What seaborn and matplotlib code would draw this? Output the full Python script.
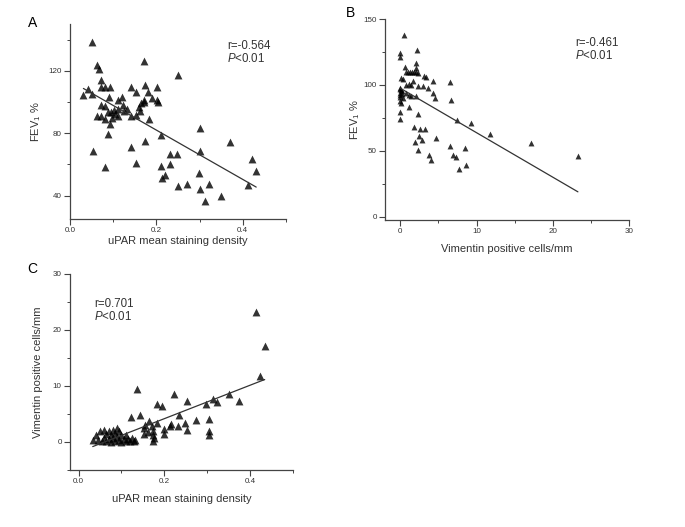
import numpy as np
import pandas as pd
import matplotlib
matplotlib.use("Agg")
import matplotlib.pyplot as plt
from matplotlib.ticker import AutoMinorLocator, MultipleLocator
import seaborn as sns

# ---- Panel A: uPAR vs FEV1 % ----
a_upar = [0.031, 0.042, 0.052, 0.052, 0.054, 0.062, 0.067, 0.063, 0.072, 0.072,
          0.072, 0.071, 0.082, 0.092, 0.082, 0.082, 0.082, 0.088, 0.089, 0.091,
          0.092, 0.095, 0.097, 0.102, 0.105, 0.110, 0.111, 0.112, 0.121, 0.122,
          0.124, 0.132, 0.141, 0.142, 0.142, 0.153, 0.152, 0.152, 0.160, 0.163,
          0.164, 0.172, 0.173, 0.172, 0.172, 0.173, 0.181, 0.182, 0.190, 0.202,
          0.202, 0.203, 0.211, 0.211, 0.212, 0.221, 0.231, 0.231, 0.247, 0.251,
          0.251, 0.271, 0.298, 0.302, 0.302, 0.302, 0.312, 0.322, 0.349, 0.371,
          0.411, 0.421, 0.431]
a_fev = [104.2, 108.2, 138.4, 105.2, 68.4, 124.0, 121.3, 91.3, 91.3, 113.8,
         109.3, 98.0, 109.3, 109.3, 97.3, 88.8, 58.2, 93.6, 79.8, 103.1,
         85.8, 93.6, 90.0, 94.7, 92.6, 95.4, 101.2, 91.1, 103.3, 98.0,
         94.1, 95.4, 109.7, 90.9, 71.2, 91.5, 106.7, 61.0, 96.9, 94.1,
         99.5, 126.4, 110.8, 101.6, 99.9, 74.7, 106.7, 89.0, 102.7, 109.3,
         101.0, 99.7, 78.7, 59.0, 51.3, 53.0, 66.5, 60.1, 66.5, 117.2,
         46.4, 47.5, 54.5, 83.4, 68.4, 44.3, 36.8, 47.7, 39.8, 74.2,
         46.6, 63.5, 56.0]

# ---- Panel B: Vimentin vs FEV1 % ----
b_vim = [0.44, 0.0, 0.0, 2.15, 2.0, 2.1, 0.57,
         0.79, 1.05, 1.23, 1.49, 1.75, 2.0, 2.37,
         3.07, 3.42, 4.3, 6.5, 0.1, 0.35,
         0.79, 1.14, 1.45, 1.67, 2.37, 2.98, 3.68, 4.3, 4.56,
         0.0, 0.1, 0.0, 0.2, 0.0, 0.3, 0.0, 0.1, 0.0, 0.2, 0.0,
         0.79, 1.14, 1.45, 2.1,
         0.0, 0.0, 1.1, 2.3, 6.6, 7.4, 9.34,
         1.75, 2.63, 3.25, 2.46, 2.9, 1.93, 4.74, 2.28, 3.77, 4.04,
         6.5, 6.93, 7.28, 8.46, 8.6, 7.68, 11.8, 17.15, 23.3]
b_fev = [138.1, 124.0, 121.0, 126.3, 116.9, 113.1, 113.6,
         109.5, 109.5, 109.5, 109.5, 109.5, 109.5, 109.0,
         106.8, 106.3, 103.0, 102.5, 105.0, 104.3,
         100.0, 100.5, 100.0, 103.0, 99.2, 99.2, 97.5, 93.7, 90.4,
         98.0, 96.0, 94.0, 93.0, 91.0, 90.0, 88.0, 86.0, 97.0, 95.0, 92.5,
         93.7, 92.4, 91.9, 91.7,
         79.8, 74.2, 83.6, 77.8, 88.6, 73.5, 71.0,
         68.4, 66.4, 66.4, 60.9, 58.3, 57.0, 59.6, 50.8, 47.0, 43.4,
         53.3, 47.0, 45.2, 52.5, 39.4, 36.1, 63.1, 55.6, 45.7]

# ---- Panel C: uPAR vs Vimentin ----
c_upar = [0.033, 0.136, 0.144, 0.123, 0.182, 0.194, 0.223, 0.253, 0.274, 0.234,
          0.248, 0.233, 0.252, 0.213, 0.216, 0.200, 0.200, 0.184, 0.164, 0.155,
          0.153, 0.152, 0.162, 0.172, 0.174, 0.174, 0.175, 0.173, 0.131,
          0.298, 0.313, 0.323, 0.351, 0.373, 0.304, 0.304, 0.304,
          0.413, 0.434, 0.423,
          0.040, 0.045, 0.050, 0.055, 0.060, 0.060, 0.065, 0.065, 0.070, 0.070,
          0.075, 0.075, 0.080, 0.080, 0.085, 0.085, 0.090, 0.090, 0.095, 0.095,
          0.100, 0.100, 0.105, 0.110, 0.110, 0.115, 0.120, 0.125, 0.130]
c_vim = [0.3, 9.4, 4.8, 4.4, 6.7, 6.5, 8.6, 7.4, 3.9, 4.8,
         3.4, 2.8, 2.1, 2.8, 3.3, 2.3, 1.5, 3.4, 3.8, 3.0,
         2.5, 1.5, 1.7, 2.8, 1.9, 1.2, 0.7, 0.1, 0.3,
         6.7, 7.7, 7.1, 8.6, 7.4, 4.1, 1.9, 1.3,
         23.3, 17.2, 11.8,
         1.2, 0.4, 2.0, 0.2, 2.2, 0.8, 1.5, 0.1, 2.0, 0.5,
         1.2, 0.0, 2.2, 0.7, 1.6, 0.2, 2.5, 0.9, 1.9, 0.3,
         1.2, 0.0, 0.6, 1.3, 0.2, 0.5, 0.1, 0.8, 0.2]

sns.set_style("ticks")
plt.rcParams['font.family'] = ['Liberation Sans', 'DejaVu Sans']
plt.rcParams['mathtext.fontset'] = 'custom'
plt.rcParams['mathtext.rm'] = 'Liberation Sans'
plt.rcParams['mathtext.it'] = 'Liberation Sans:italic'

W, H = 685, 527
fig = plt.figure(figsize=(W / 100, H / 100), dpi=100)

def px_axes(l, t, r, b):
    return fig.add_axes([l / W, 1 - b / H, (r - l) / W, (b - t) / H])

axA = px_axes(70, 24, 286, 219)
axB = px_axes(385, 19, 629, 220)
axC = px_axes(70, 274, 293, 470)

spine_c = '#444444'
txt_c = '#333333'

def style(ax, xlim, ylim, xmaj, ymaj):
    ax.set_xlim(*xlim)
    ax.set_ylim(*ylim)
    ax.xaxis.set_major_locator(MultipleLocator(xmaj))
    ax.yaxis.set_major_locator(MultipleLocator(ymaj))
    ax.xaxis.set_minor_locator(AutoMinorLocator(2))
    ax.yaxis.set_minor_locator(AutoMinorLocator(2))
    for s in ['top', 'right']:
        ax.spines[s].set_visible(False)
    for s in ['left', 'bottom']:
        ax.spines[s].set_color(spine_c)
        ax.spines[s].set_linewidth(0.9)
    ax.tick_params(which='major', direction='out', length=4, width=0.8,
                   color=spine_c, labelsize=5.8, labelcolor=txt_c, pad=2)
    ax.tick_params(which='minor', direction='out', length=2, width=0.7,
                   color=spine_c)

scat = dict(color='black', s=32, linewidths=0)
line = dict(color='#333333', lw=0.9)

sns.regplot(x=a_upar, y=a_fev, ax=axA, ci=None, marker='^',
            scatter_kws=scat, line_kws=line)
style(axA, (0.0, 0.5), (25, 150), 0.2, 40)
axA.set_xticks([0.0, 0.2, 0.4])
axA.set_xticklabels(['0.0', '0.2', '0.4'])
axA.set_yticks([40, 80, 120])

sns.regplot(x=b_vim, y=b_fev, ax=axB, ci=None, marker='^',
            scatter_kws=dict(color='black', s=18, linewidths=0), line_kws=line)
style(axB, (-2, 30), (-2.5, 150), 10, 50)

sns.regplot(x=c_upar, y=c_vim, ax=axC, ci=None, marker='^',
            scatter_kws=scat, line_kws=line)
style(axC, (-0.02, 0.5), (-5, 30), 0.2, 10)
axC.set_xticks([0.0, 0.2, 0.4])
axC.set_xticklabels(['0.0', '0.2', '0.4'])

lab = dict(fontsize=8, color=txt_c)
axA.set_xlabel('uPAR mean staining density', labelpad=1.5, **lab)
axA.set_ylabel('FEV$_1$ %', labelpad=4, **lab)
axB.set_xlabel('Vimentin positive cells/mm', labelpad=6, **lab)
axB.set_ylabel('FEV$_1$ %', labelpad=1, **lab)
axC.set_xlabel('uPAR mean staining density', labelpad=6, **lab)
axC.set_ylabel('Vimentin positive cells/mm', labelpad=7, **lab)

ann = dict(fontsize=8.3, color=txt_c, transform=fig.transFigure, va='baseline')
def ftext(x, y, s, **kw):
    d = dict(ann); d.update(kw)
    fig.text(x / W, 1 - y / H, s, **d)

ftext(227, 49, 'r=-0.564')
ftext(227, 62, '$P$<0.01')
ftext(575, 46, 'r=-0.461')
ftext(575, 59, '$P$<0.01')
ftext(94, 307, 'r=0.701')
ftext(94, 320, '$P$<0.01')

ftext(28, 27, 'A', fontsize=10, color='black')
ftext(346, 17, 'B', fontsize=10, color='black')
ftext(27, 273, 'C', fontsize=10, color='black')

fig.savefig('out.png', dpi=100)
